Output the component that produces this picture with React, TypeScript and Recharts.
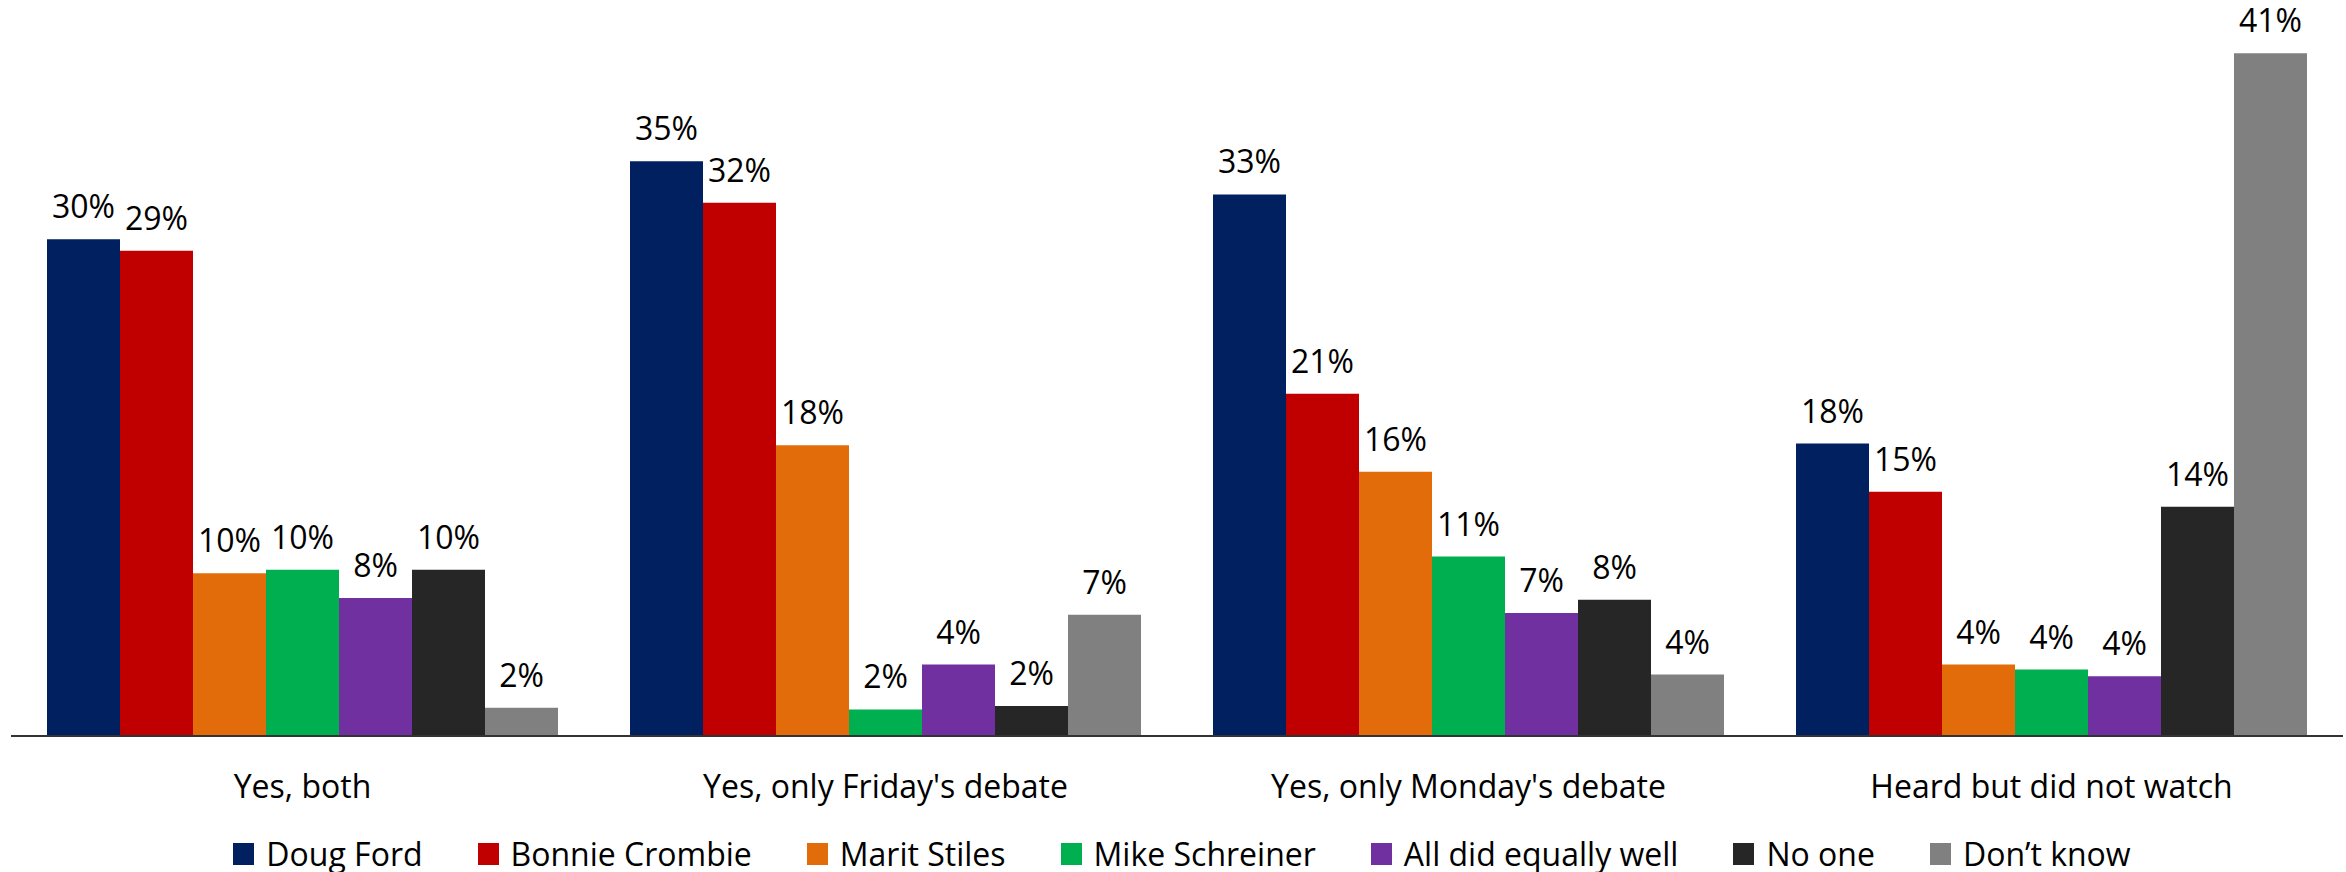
import { Bar, BarChart, LabelList, Legend, XAxis, YAxis } from "recharts"

const FONT = '"Open Sans", "Noto Sans", sans-serif'

// question categories (x axis)
const CATEGORIES = [
    'Yes, both',
    "Yes, only Friday's debate",
    "Yes, only Monday's debate",
    'Heard but did not watch',
]

const SERIES = ['Doug Ford', 'Bonnie Crombie', 'Marit Stiles', 'Mike Schreiner', 'All did equally well', 'No one', 'Don\u2019t know']
const COLORS = ['#002060', '#C00000', '#E36C0A', '#00B050', '#7030A0', '#262626', '#808080']

// values in %, one per category
const dougFord = [29.9, 34.6, 32.6, 17.6]
const bonnieCrombie = [29.2, 32.1, 20.6, 14.7]
const maritStiles = [9.8, 17.5, 15.9, 4.3]
const mikeSchreiner = [10.0, 1.6, 10.8, 4.0]
const allEqual = [8.3, 4.3, 7.4, 3.6]
const noOne = [10.0, 1.8, 8.2, 13.8]
const dontKnow = [1.7, 7.3, 3.7, 41.1]

const VALUES = [dougFord, bonnieCrombie, maritStiles, mikeSchreiner, allEqual, noOne, dontKnow]
const KEYS = ['s0', 's1', 's2', 's3', 's4', 's5', 's6']

const data = CATEGORIES.map((name, c) => {
    const row: Record<string, string | number> = { name }
    VALUES.forEach((vals, s) => { row[KEYS[s]] = vals[c] })
    return row
})

function LegendRow() {
    return (
        <div style={{ display: 'flex', justifyContent: 'center', alignItems: 'center', height: 60, paddingTop: 24, paddingLeft: 10, boxSizing: 'border-box' }}>
            {SERIES.map((name, i) => (
                <div key={name} style={{ display: 'flex', alignItems: 'center', marginLeft: i ? 55 : 0 }}>
                    <span style={{ display: 'inline-block', width: 21, height: 22, background: COLORS[i], marginRight: 12 }} />
                    <span style={{ fontFamily: FONT, fontSize: 32, lineHeight: '36px', color: '#000', whiteSpace: 'nowrap' }}>{name}</span>
                </div>
            ))}
        </div>
    )
}

export default function App() {
    return (
        <div style={{ position: 'absolute', left: 0, top: 0, width: 2346, height: 872, background: '#fff' }}>
            <BarChart
                width={2346}
                height={872}
                data={data}
                margin={{ top: 0, right: 3, left: 11, bottom: 0 }}
                barCategoryGap={36}
                barGap={0}
                style={{ fontFamily: FONT, overflow: 'visible' }}
            >
                <XAxis
                    dataKey="name"
                    height={76}
                    tickLine={false}
                    tickSize={0}
                    tickMargin={39}
                    axisLine={{ stroke: '#333333', strokeWidth: 2 }}
                    tick={{ fill: '#000', fontSize: 32, fontFamily: FONT }}
                    interval={0}
                />
                <YAxis hide domain={[0, 44.3]} allowDataOverflow />
                <Legend verticalAlign="bottom" content={() => <LegendRow />} />
                {KEYS.map((key, i) => (
                    <Bar key={key} dataKey={key} name={SERIES[i]} fill={COLORS[i]} isAnimationActive={false}>
                        <LabelList
                            dataKey={key}
                            position="top"
                            offset={21}
                            fill="#000"
                            fontSize={32}
                            fontFamily={FONT}
                            formatter={(v: any) => `${Math.round(Number(v))}%`}
                        />
                    </Bar>
                ))}
            </BarChart>
        </div>
    )
}
